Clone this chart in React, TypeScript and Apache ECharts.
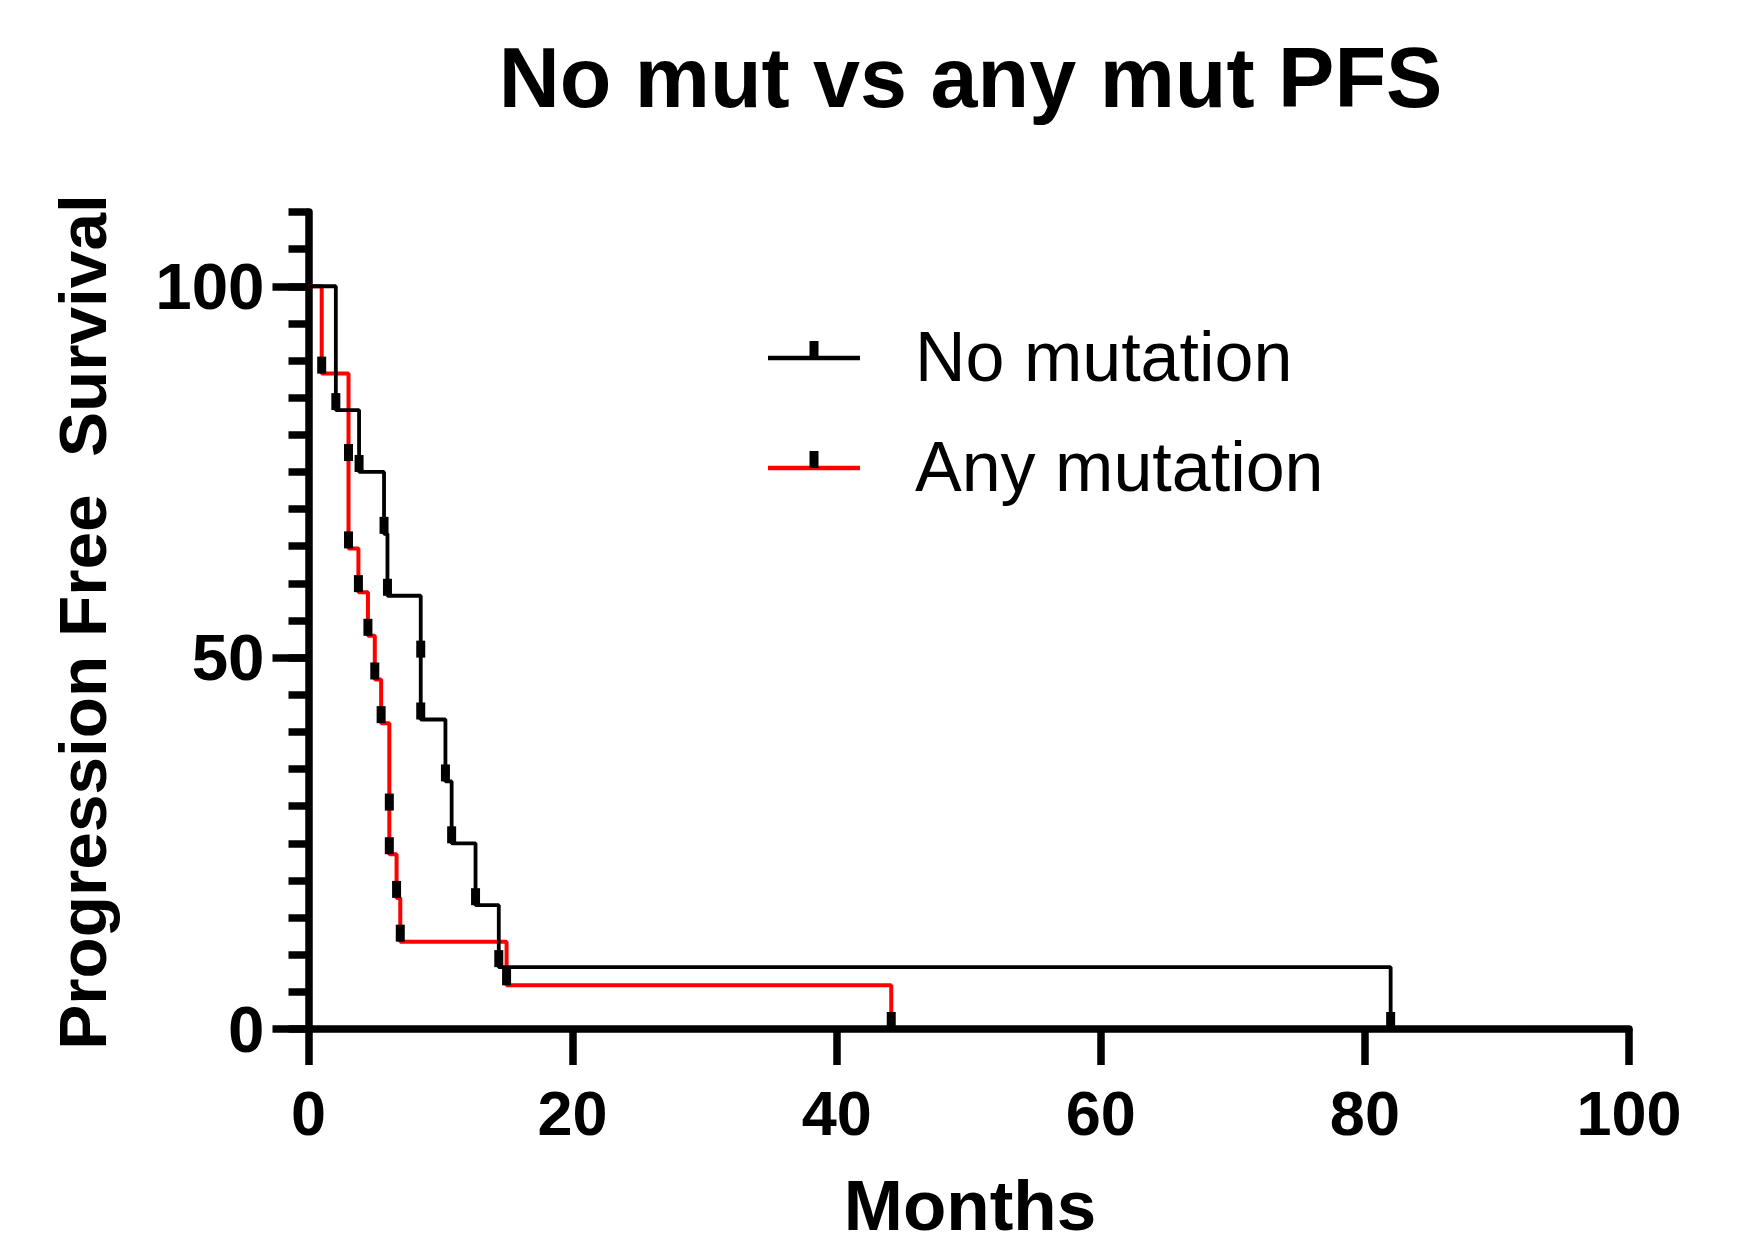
import React, { useEffect, useRef } from 'react';
import * as echarts from 'echarts';

const FONT = '"Liberation Sans", Arial, Helvetica, sans-serif';

// Kaplan-Meier step points (time in months, % progression-free)
const noMutTimes = [0, 2.07, 3.83, 5.72, 5.98, 8.5, 10.37, 10.84, 12.65, 14.41, 81.95];
const noMutSurv = [100, 83.33, 75, 66.67, 58.33, 41.67, 33.33, 25, 16.67, 8.33, 0];
const noMutTickTimes = [2.07, 3.83, 5.72, 5.98, 8.5, 8.5, 10.37, 10.84, 12.65, 14.41, 81.95];
const noMutTickSurv = [83.33, 75, 66.67, 58.33, 50, 41.67, 33.33, 25, 16.67, 8.33, 0];

const anyMutTimes = [0, 1.0, 3.03, 3.78, 4.5, 5.02, 5.5, 6.12, 6.67, 6.95, 15.0, 44.13];
const anyMutSurv = [100, 88.24, 64.71, 58.82, 52.94, 47.06, 41.18, 23.53, 17.65, 11.76, 5.88, 0];
const anyMutTickTimes = [1.0, 3.03, 3.03, 3.78, 4.5, 5.02, 5.5, 6.12, 6.12, 6.67, 6.95, 15.0, 44.13];
const anyMutTickSurv = [88.24, 76.47, 64.71, 58.82, 52.94, 47.06, 41.18, 29.41, 23.53, 17.65, 11.76, 5.88, 0];

const yMajorTicks = [0, 50, 100];
const seriesNames = ['No mutation', 'Any mutation'];
const seriesColors = ['#000000', '#ff0000'];

const pairs = (xs: number[], ys: number[]) => xs.map((x, i) => [x, ys[i]]);

export default function App() {
  const ref = useRef<HTMLDivElement>(null);
  useEffect(() => {
    if (!ref.current) return;
    const chart = echarts.init(ref.current, undefined, { renderer: 'svg' });
    const axisBlack = { color: '#000', width: 7.5 };
    const labelStyle = { color: '#000', fontFamily: FONT, fontWeight: 'bold' };
    const tickMark = {
      symbol: 'rect', symbolSize: [9, 17], symbolOffset: [0, -8.5],
      itemStyle: { color: '#000', opacity: 1 }, z: 4,
    };
    const option: any = {
      animation: false,
      backgroundColor: '#ffffff',
      grid: { left: 308.5, right: 117, top: 212, bottom: 206, containLabel: false, outerBoundsMode: 'none' },
      xAxis: {
        type: 'value', min: 0, max: 100, interval: 20,
        axisLine: { lineStyle: axisBlack },
        axisTick: { length: 36, lineStyle: axisBlack },
        axisLabel: { ...labelStyle, fontSize: 63, margin: 52 },
        splitLine: { show: false },
      },
      yAxis: [
        {
          type: 'value', min: 0, max: 110, interval: 5, position: 'left',
          axisLine: { show: true, lineStyle: axisBlack },
          axisTick: { length: 20, lineStyle: axisBlack },
          axisLabel: { ...labelStyle, fontSize: 65.5, margin: 44, customValues: yMajorTicks },
          splitLine: { show: false },
        },
        {
          type: 'value', min: 0, max: 110, interval: 50, position: 'left',
          axisLine: { show: false },
          axisTick: { length: 36, lineStyle: axisBlack, customValues: yMajorTicks },
          axisLabel: { show: false },
          splitLine: { show: false },
        },
      ],
      series: [
        {
          type: 'line', name: seriesNames[1], step: 'end', showSymbol: false, symbol: 'none',
          data: pairs(anyMutTimes, anyMutSurv),
          lineStyle: { color: seriesColors[1], width: 4 }, itemStyle: { color: seriesColors[1] }, z: 2,
        },
        {
          type: 'line', name: seriesNames[0], step: 'end', showSymbol: false, symbol: 'none',
          data: pairs(noMutTimes, noMutSurv),
          lineStyle: { color: seriesColors[0], width: 3.8 }, itemStyle: { color: seriesColors[0] }, z: 3,
        },
        { type: 'scatter', name: seriesNames[1] + ' censored', data: pairs(anyMutTickTimes, anyMutTickSurv), ...tickMark },
        { type: 'scatter', name: seriesNames[0] + ' censored', data: pairs(noMutTickTimes, noMutTickSurv), ...tickMark },
      ],
      graphic: [
        {
          type: 'text', x: 970.5, y: 78,
          style: { text: 'No mut vs any mut PFS', fill: '#000', fontFamily: FONT, fontWeight: 'bold', fontSize: 84.5, align: 'center', verticalAlign: 'middle' },
        },
        {
          type: 'text', x: 82.5, y: 622, rotation: Math.PI / 2,
          style: { text: 'Progression Free  Survival', fill: '#000', fontFamily: FONT, fontWeight: 'bold', fontSize: 67.5, align: 'center', verticalAlign: 'middle' },
        },
        {
          type: 'text', x: 970, y: 1205,
          style: { text: 'Months', fill: '#000', fontFamily: FONT, fontWeight: 'bold', fontSize: 71, lineHeight: 50, align: 'center', verticalAlign: 'middle' },
        },
        // legend
        { type: 'line', shape: { x1: 768, y1: 358, x2: 860, y2: 358 }, style: { stroke: seriesColors[0], lineWidth: 4.5 } },
        { type: 'rect', shape: { x: 809.5, y: 341, width: 9, height: 17 }, style: { fill: '#000' } },
        {
          type: 'text', x: 915, y: 356.5,
          style: { text: seriesNames[0], fill: '#000', fontFamily: FONT, fontSize: 70, align: 'left', verticalAlign: 'middle' },
        },
        { type: 'line', shape: { x1: 768, y1: 468, x2: 860, y2: 468 }, style: { stroke: seriesColors[1], lineWidth: 4.5 } },
        { type: 'rect', shape: { x: 809.5, y: 451, width: 9, height: 17 }, style: { fill: '#000' } },
        {
          type: 'text', x: 915, y: 466.5,
          style: { text: seriesNames[1], fill: '#000', fontFamily: FONT, fontSize: 70, align: 'left', verticalAlign: 'middle' },
        },
      ],
    };
    chart.setOption(option);
    return () => chart.dispose();
  }, []);
  return (
    <div
      ref={ref}
      style={{ position: 'absolute', left: 0, top: 0, width: 1746, height: 1235, background: '#fff' }}
    />
  );
}
